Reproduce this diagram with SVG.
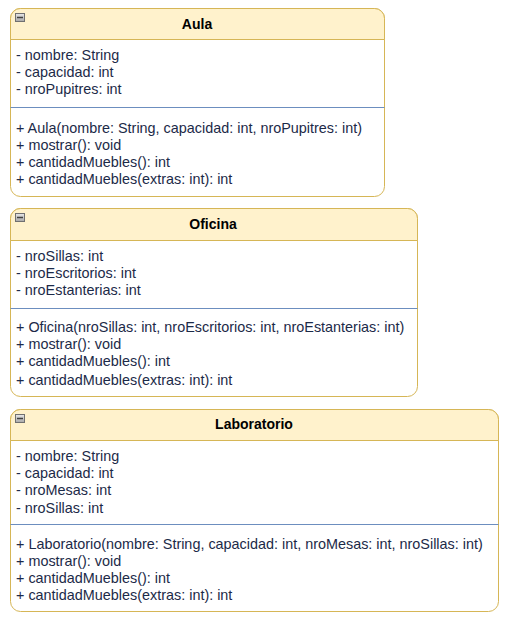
<svg xmlns="http://www.w3.org/2000/svg" width="507" height="618" viewBox="0 0 507 618">
<defs>
<linearGradient id="ig" x1="0" y1="0" x2="0" y2="1"><stop offset="0" stop-color="#e8e8e8"/><stop offset="1" stop-color="#a8a8a8"/></linearGradient>
<style>
.body{fill:#ffffff;stroke:#d6b656;stroke-width:1}
.head{fill:#fff2cc;stroke:#d6b656;stroke-width:1}
.sep{stroke:#6c8ebf;stroke-width:1}
.t{font-family:"Liberation Sans",Arial,sans-serif;font-size:14.4px;fill:#1c2a48}
.h{font-family:"Liberation Sans",Arial,sans-serif;font-size:14px;font-weight:bold;fill:#000000;text-anchor:middle}
.ico{fill:url(#ig);stroke:#707070;stroke-width:1}
.icl{stroke:#404040;stroke-width:1.5}
</style>
</defs>
<g id="aula">
<rect class="body" x="10.5" y="8.5" width="374" height="188" rx="10"/>
<path class="head" d="M10.5 39.5 V18.5 A10 10 0 0 1 20.5 8.5 H374.5 A10 10 0 0 1 384.5 18.5 V39.5 Z"/>
<rect class="ico" x="15.5" y="13.5" width="9" height="8"/><line class="icl" x1="17" y1="17.5" x2="23" y2="17.5"/>
<text class="h" x="197" y="29">Aula</text>
<text class="t" x="16" y="60">- nombre: String</text>
<text class="t" x="16" y="77">- capacidad: int</text>
<text class="t" x="16" y="94">- nroPupitres: int</text>
<line class="sep" x1="10.5" y1="107.5" x2="384.5" y2="107.5"/>
<text class="t" x="16" y="133">+ Aula(nombre: String, capacidad: int, nroPupitres: int)</text>
<text class="t" x="16" y="150">+ mostrar(): void</text>
<text class="t" x="16" y="167">+ cantidadMuebles(): int</text>
<text class="t" x="16" y="184">+ cantidadMuebles(extras: int): int</text>
</g>
<g id="oficina">
<rect class="body" x="10.5" y="208.5" width="407" height="188" rx="10"/>
<path class="head" d="M10.5 240.5 V218.5 A10 10 0 0 1 20.5 208.5 H407.5 A10 10 0 0 1 417.5 218.5 V240.5 Z"/>
<rect class="ico" x="15.5" y="213.5" width="9" height="8"/><line class="icl" x1="17" y1="217.5" x2="23" y2="217.5"/>
<text class="h" x="213" y="229">Oficina</text>
<text class="t" x="16" y="261">- nroSillas: int</text>
<text class="t" x="16" y="278">- nroEscritorios: int</text>
<text class="t" x="16" y="295">- nroEstanterias: int</text>
<line class="sep" x1="10.5" y1="308.5" x2="417.5" y2="308.5"/>
<text class="t" x="16" y="332">+ Oficina(nroSillas: int, nroEscritorios: int, nroEstanterias: int)</text>
<text class="t" x="16" y="349">+ mostrar(): void</text>
<text class="t" x="16" y="366">+ cantidadMuebles(): int</text>
<text class="t" x="16" y="385">+ cantidadMuebles(extras: int): int</text>
</g>
<g id="laboratorio">
<rect class="body" x="10.5" y="409.5" width="488" height="202" rx="10"/>
<path class="head" d="M10.5 440.5 V419.5 A10 10 0 0 1 20.5 409.5 H488.5 A10 10 0 0 1 498.5 419.5 V440.5 Z"/>
<rect class="ico" x="15.5" y="414.5" width="9" height="8"/><line class="icl" x1="17" y1="418.5" x2="23" y2="418.5"/>
<text class="h" x="254" y="429">Laboratorio</text>
<text class="t" x="16" y="461">- nombre: String</text>
<text class="t" x="16" y="478">- capacidad: int</text>
<text class="t" x="16" y="495">- nroMesas: int</text>
<text class="t" x="16" y="513">- nroSillas: int</text>
<line class="sep" x1="10.5" y1="524.5" x2="498.5" y2="524.5"/>
<text class="t" x="16" y="549">+ Laboratorio(nombre: String, capacidad: int, nroMesas: int, nroSillas: int)</text>
<text class="t" x="16" y="566">+ mostrar(): void</text>
<text class="t" x="16" y="583">+ cantidadMuebles(): int</text>
<text class="t" x="16" y="600">+ cantidadMuebles(extras: int): int</text>
</g>
<g id="connectors"></g>
</svg>
